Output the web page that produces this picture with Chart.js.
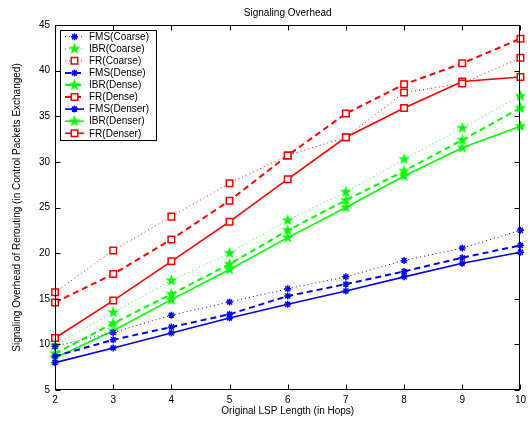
<!DOCTYPE html>
<html>
<head>
<meta charset="utf-8">
<script src="https://cdn.jsdelivr.net/npm/chart.js@4/dist/chart.umd.min.js"></script>
<style>
  html, body { margin: 0; padding: 0; background: #fff; }
  #wrap { width: 530px; height: 422px; }
</style>
</head>
<body>
<div id="wrap"><canvas id="chart" width="530" height="422"></canvas></div>
<script>
  // hop counts on the x axis
  var hops = [2, 3, 4, 5, 6, 7, 8, 9, 10];
  var yTicks = [5, 10, 15, 20, 25, 30, 35, 40, 45];

  var fmsCoarse  = [9.8, 11.3, 13.2, 14.65, 16.1, 17.4, 19.2, 20.55, 22.5];
  var ibrCoarse  = [9.9, 13.5, 17.0, 20.0, 23.6, 26.7, 30.3, 33.7, 37.2];
  var frCoarse   = [15.7, 20.3, 24.0, 27.65, 30.7, 32.7, 37.6, 38.6, 41.4];
  var fmsDense   = [8.7, 10.5, 11.9, 13.3, 15.3, 16.6, 18.0, 19.5, 20.85];
  var ibrDense   = [9.0, 12.3, 15.5, 18.8, 22.5, 25.8, 29.0, 32.4, 35.9];
  var frDense    = [14.6, 17.7, 21.5, 25.75, 30.7, 35.3, 38.5, 40.8, 43.5];
  var fmsDenser  = [8.0, 9.6, 11.25, 12.9, 14.4, 15.85, 17.4, 18.9, 20.1];
  var ibrDenser  = [8.5, 11.5, 14.9, 18.2, 21.7, 25.0, 28.45, 31.55, 33.9];
  var frDenser   = [10.7, 14.8, 19.1, 23.45, 28.1, 32.7, 35.9, 38.8, 39.3];

  var FONT = "Liberation Sans, Arial, Helvetica, sans-serif";
  var BLUE = "#0000ff", GREEN = "#00ff00", RED = "#ff0000";

  // filled pentagram used as the IBR marker
  function makeStar(color) {
    var c = document.createElement("canvas");
    c.width = 13; c.height = 13;
    var g = c.getContext("2d");
    g.fillStyle = color;
    g.beginPath();
    for (var i = 0; i < 10; i++) {
      var r = i % 2 === 0 ? 6.3 : 2.5;
      var a = -Math.PI / 2 + i * Math.PI / 5;
      var px = 6.5 + r * Math.cos(a), py = 6.5 + r * Math.sin(a);
      if (i === 0) g.moveTo(px, py); else g.lineTo(px, py);
    }
    g.closePath();
    g.fill();
    return c;
  }
  var starImg = makeStar(GREEN);

  var styles = {
    coarse: { dash: [1, 3], width: 1 },
    dense: { dash: [6, 4], width: 2 },
    denser: { dash: [], width: 1.6 }
  };

  function series(label, values, color, kind, marker) {
    var st = styles[kind];
    var ds = {
      label: label,
      data: values.map(function (v, i) { return { x: hops[i], y: v }; }),
      borderColor: color,
      borderWidth: st.width,
      borderDash: st.dash,
      fill: false,
      tension: 0,
      clip: false,
      pointBorderColor: color,
      pointBorderWidth: 1.5
    };
    if (marker === "star") {
      ds.pointStyle = starImg;
      ds.pointRadius = 6;
    } else if (marker === "rect") {
      ds.pointStyle = "rect";
      ds.pointRadius = 4.6;
      ds.pointBackgroundColor = "#ffffff";
    } else {
      ds.pointStyle = "star";
      ds.pointRadius = 3.5;
      ds.pointBackgroundColor = color;
    }
    return ds;
  }

  var datasets = [
    series("FMS(Coarse)", fmsCoarse, BLUE, "coarse", "x"),
    series("IBR(Coarse)", ibrCoarse, GREEN, "coarse", "star"),
    series("FR(Coarse)", frCoarse, RED, "coarse", "rect"),
    series("FMS(Dense)", fmsDense, BLUE, "dense", "x"),
    series("IBR(Dense)", ibrDense, GREEN, "dense", "star"),
    series("FR(Dense)", frDense, RED, "dense", "rect"),
    series("FMS(Denser)", fmsDenser, BLUE, "denser", "x"),
    series("IBR(Denser)", ibrDenser, GREEN, "denser", "star"),
    series("FR(Denser)", frDenser, RED, "denser", "rect")
  ];

  // matlab-like frame: box, inward ticks, title and legend
  var framePlugin = {
    id: "frame",
    afterDraw: function (chart) {
      var ctx = chart.ctx, a = chart.chartArea;
      var xs = chart.scales.x, ys = chart.scales.y;
      ctx.save();
      ctx.strokeStyle = "#000";
      ctx.lineWidth = 1;
      ctx.setLineDash([]);
      var L = Math.round(a.left) + 0.5, R = Math.round(a.right) - 0.5;
      var T = Math.round(a.top) + 0.5, B = Math.round(a.bottom) - 0.5;
      ctx.strokeRect(L, T, R - L, B - T);
      ctx.beginPath();
      hops.forEach(function (h) {
        var px = Math.round(xs.getPixelForValue(h)) + 0.5;
        ctx.moveTo(px, B); ctx.lineTo(px, B - 5);
        ctx.moveTo(px, T); ctx.lineTo(px, T + 5);
      });
      yTicks.forEach(function (t) {
        var py = Math.round(ys.getPixelForValue(t)) + 0.5;
        ctx.moveTo(L, py); ctx.lineTo(L + 5, py);
        ctx.moveTo(R, py); ctx.lineTo(R - 5, py);
      });
      ctx.stroke();

      ctx.fillStyle = "#000";
      ctx.font = "10px " + FONT;
      ctx.textAlign = "center";
      ctx.textBaseline = "middle";
      ctx.fillText("Signaling Overhead", (a.left + a.right) / 2, 13);

      // legend
      var bx = 60.5, by = 30.5, bw = 96, bh = 110;
      ctx.fillStyle = "#fff";
      ctx.fillRect(bx, by, bw, bh);
      ctx.strokeRect(bx, by, bw, bh);
      chart.data.datasets.forEach(function (ds, i) {
        var cy = 36.7 + i * 12.07;
        ctx.save();
        ctx.strokeStyle = ds.borderColor;
        ctx.lineWidth = ds.borderWidth;
        ctx.setLineDash(ds.borderDash);
        ctx.beginPath();
        ctx.moveTo(65, cy); ctx.lineTo(84, cy);
        ctx.stroke();
        ctx.setLineDash([]);
        ctx.fillStyle = ds.pointBackgroundColor || ds.borderColor;
        ctx.strokeStyle = ds.pointBorderColor;
        ctx.lineWidth = ds.pointBorderWidth;
        Chart.helpers.drawPoint(ctx, {
          pointStyle: ds.pointStyle,
          radius: ds.pointRadius,
          rotation: 0,
          borderWidth: ds.pointBorderWidth
        }, 74.5, cy);
        ctx.restore();
        ctx.fillStyle = "#000";
        ctx.textAlign = "left";
        ctx.fillText(ds.label, 89, cy + 0.5);
      });
      ctx.restore();
    }
  };

  new Chart(document.getElementById("chart"), {
    type: "line",
    data: { datasets: datasets },
    plugins: [framePlugin],
    options: {
      responsive: false,
      animation: false,
      layout: { padding: { left: 0, right: 3, top: 25, bottom: 0 } },
      plugins: {
        legend: { display: false },
        title: { display: false },
        tooltip: { enabled: false }
      },
      scales: {
        x: {
          type: "linear",
          min: 2,
          max: 10,
          afterFit: function (s) { s.height = 32; },
          afterBuildTicks: function (s) { s.ticks = hops.map(function (v) { return { value: v }; }); },
          grid: { display: false, drawTicks: false },
          border: { display: false },
          ticks: { color: "#000", font: { size: 10, family: FONT }, padding: 4, maxRotation: 0 },
          title: {
            display: true,
            text: "Original LSP Length (in Hops)",
            color: "#000",
            font: { size: 10, family: FONT },
            padding: { top: 0, bottom: 5 }
          }
        },
        y: {
          min: 5,
          max: 45,
          afterFit: function (s) { s.width = 55; },
          afterBuildTicks: function (s) { s.ticks = yTicks.map(function (v) { return { value: v }; }); },
          grid: { display: false, drawTicks: false },
          border: { display: false },
          ticks: { color: "#000", font: { size: 10, family: FONT }, padding: 5 },
          title: {
            display: true,
            text: "Signaling Overhead of Rerouting (in Control Packets Exchanged)",
            color: "#000",
            font: { size: 10, family: FONT },
            padding: { top: 11, bottom: 0 }
          }
        }
      }
    }
  });
</script>
</body>
</html>
